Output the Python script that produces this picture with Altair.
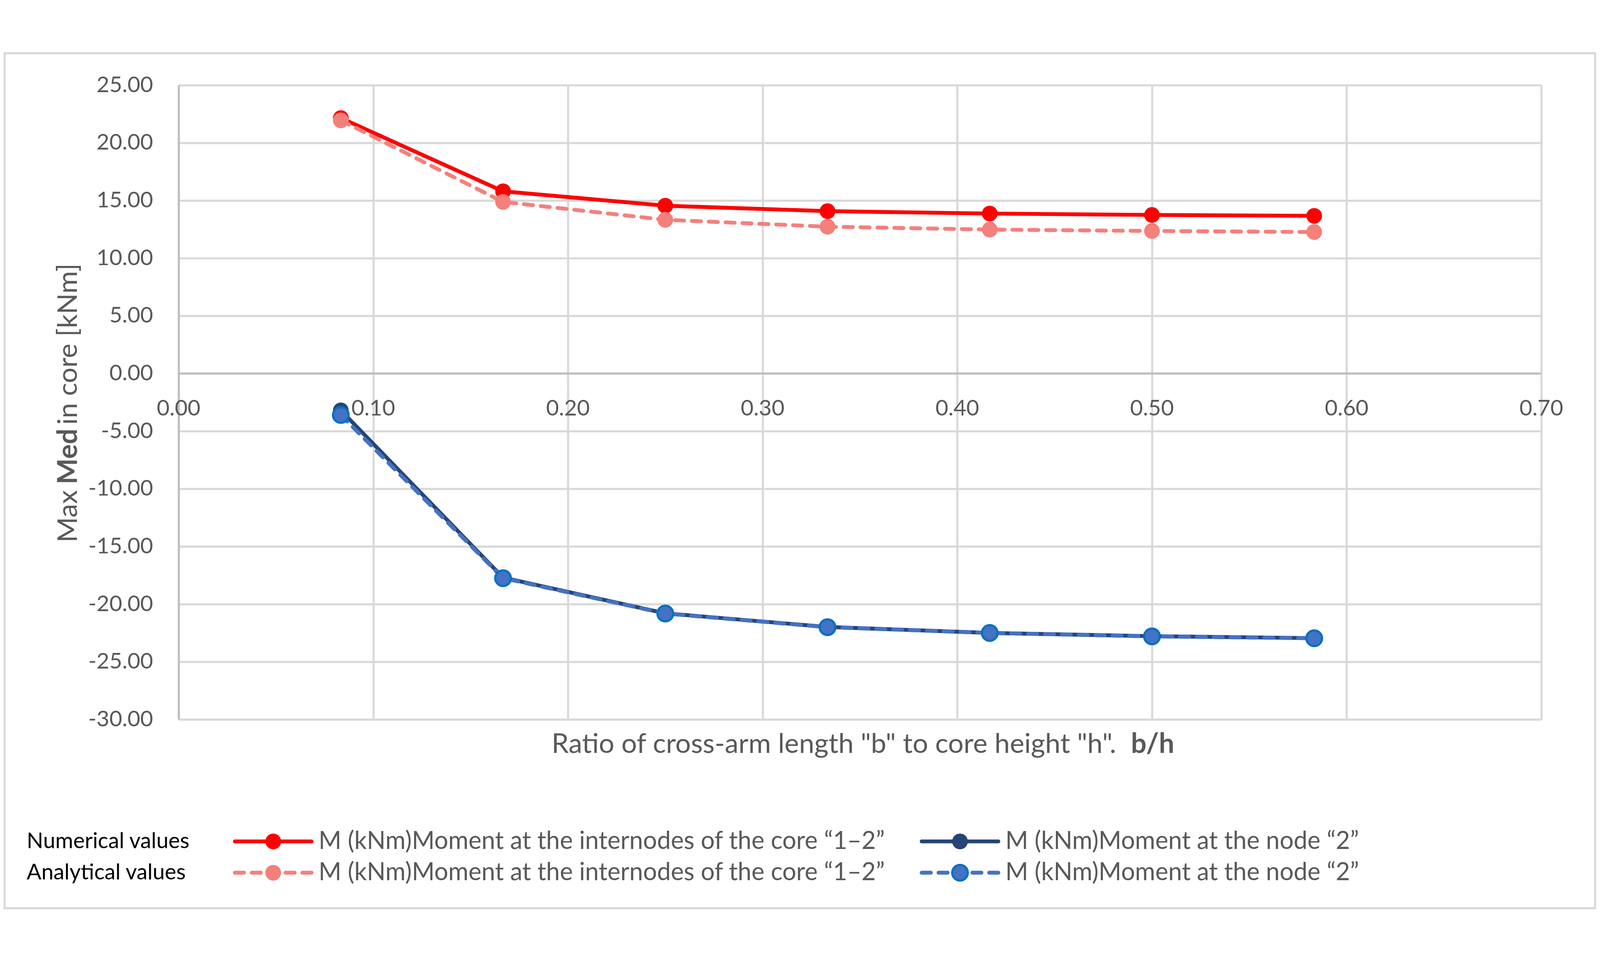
import altair as alt
import pandas as pd


# b/h ratios and the four moment series (kNm)
x_ratio = [1 / 12, 2 / 12, 3 / 12, 4 / 12, 5 / 12, 6 / 12, 7 / 12]
num_internode = [22.15, 15.80, 14.55, 14.08, 13.87, 13.75, 13.67]
ana_internode = [21.95, 14.88, 13.33, 12.73, 12.48, 12.36, 12.27]
num_node = [-3.20, -17.70, -20.80, -21.98, -22.50, -22.78, -22.95]
ana_node = [-3.60, -17.75, -20.82, -22.00, -22.50, -22.80, -22.96]

x_ticks = [0.0, 0.1, 0.2, 0.3, 0.4, 0.5, 0.6, 0.7]
y_ticks = [-30, -25, -20, -15, -10, -5, 0, 5, 10, 15, 20, 25]

series_label_internode = "M (kNm)Moment at the internodes of the core \u201c1\u20132\u201d"
series_label_node = "M (kNm)Moment at the node \u201c2\u201d"

W, H = 3875, 1804
FONT = "Lato"
GRAY = "#595959"
RED, PINK, NAVY, BLUE, BLUE_EDGE = "#FF0000", "#F4807C", "#264478", "#4472C4", "#0070C0"
DASH = [26, 22]
LW = 11
MSIZE = 2000

rows = []
for name, vals in [("num_int", num_internode), ("ana_int", ana_internode),
                   ("num_node", num_node), ("ana_node", ana_node)]:
    for xv, yv in zip(x_ratio, vals):
        rows.append({"series": name, "ratio": xv, "moment": yv})
df = pd.DataFrame(rows)

x_enc = alt.X("ratio:Q", scale=alt.Scale(domain=[0, 0.7], nice=False),
              axis=alt.Axis(values=x_ticks, labels=False, ticks=False, domain=False,
                            grid=True, gridColor="#D9D9D9", gridWidth=6, title=None))
y_enc = alt.Y("moment:Q", scale=alt.Scale(domain=[-30, 25], nice=False),
              axis=alt.Axis(values=y_ticks, ticks=False, tickSize=0,
                            labelExpr="(datum.value < 0 ? '-' : '') + format(abs(datum.value), '.2f')",
                            labelPadding=73, labelFontSize=63, labelFont=FONT, labelLimit=600,
                            labelColor=GRAY, domain=True, domainColor="#BFBFBF",
                            domainWidth=6, grid=True, gridColor="#D9D9D9",
                            gridWidth=6, title=None))

base = alt.Chart(df).encode(x=x_enc, y=y_enc)


def series_layers(name, color, dash=None, fill=None, edge=None):
    line_kw = dict(color=color, strokeWidth=LW, strokeCap="round", strokeJoin="round")
    if dash:
        line_kw["strokeDash"] = dash
    line = base.transform_filter(alt.datum.series == name).mark_line(**line_kw)
    pt_kw = dict(shape="circle", filled=True, size=MSIZE, fill=fill or color, opacity=1)
    if edge:
        pt_kw.update(stroke=edge, strokeWidth=6)
    pts = base.transform_filter(alt.datum.series == name).mark_point(**pt_kw)
    return [line, pts]


one = alt.Data(values=[{}])

# zero line carrying the x labels
zero_line = alt.Chart(one).mark_rule(color="#BFBFBF", strokeWidth=6).encode(
    y=alt.datum(0), x=alt.value(0), x2=alt.value(W))
x_labels = alt.Chart(pd.DataFrame({"t": x_ticks})).mark_text(
    font=FONT, fontSize=63, color=GRAY, baseline="alphabetic", dy=120
).encode(x=alt.X("t:Q", scale=alt.Scale(domain=[0, 0.7], nice=False)),
         y=alt.datum(0), text=alt.Text("t:Q", format=".2f"))


def text_at(x, y, label, **kw):
    style = dict(font=FONT, fontSize=78, color=GRAY)
    style.update(kw)
    return alt.Chart(one).mark_text(**style).encode(
        x=alt.value(x), y=alt.value(y), text=alt.value(label))


# axis titles (part of each in bold)
x_title = [
    text_at(2666, 1876, 'Ratio of cross-arm length "b" to core height "h".', align="right"),
    text_at(2708, 1876, "b/h", align="left", fontWeight="bold"),
]
y_title = [
    text_at(-312, 1152, "Max", align="right", angle=270),
    text_at(-312, 1056, "Med", align="center", angle=270, fontWeight="bold"),
    text_at(-312, 966, "in core [kNm]", align="left", angle=270),
]


def legend_entry(x0, y0, color, label, dash=None, fill=None, edge=None):
    rule_kw = dict(color=color, strokeWidth=LW, strokeCap="round")
    if dash:
        rule_kw["strokeDash"] = dash
    rule = alt.Chart(one).mark_rule(**rule_kw).encode(
        x=alt.value(x0), x2=alt.value(x0 + 218), y=alt.value(y0))
    pt_kw = dict(shape="circle", filled=True, size=MSIZE, fill=fill or color, opacity=1)
    if edge:
        pt_kw.update(stroke=edge, strokeWidth=6)
    pt = alt.Chart(one).mark_point(**pt_kw).encode(x=alt.value(x0 + 109), y=alt.value(y0))
    txt = text_at(x0 + 238, y0, label, fontSize=70, align="left", baseline="middle")
    return [rule, pt, txt]


legend = (
    [text_at(-432, 2151, "Numerical values", fontSize=62, color="black",
             align="left", baseline="middle"),
     text_at(-432, 2240, "Analytical values", fontSize=62, color="black",
             align="left", baseline="middle")]
    + legend_entry(160, 2151, RED, series_label_internode)
    + legend_entry(2113, 2151, NAVY, series_label_node)
    + legend_entry(160, 2240, PINK, series_label_internode, dash=DASH)
    + legend_entry(2113, 2240, BLUE, series_label_node, dash=DASH, edge=BLUE_EDGE)
)

# outer chart frame; with "pad" autosize it also sets the drawing bounds
border = alt.Chart(one).mark_rect(fillOpacity=0, stroke="#D9D9D9", strokeWidth=6).encode(
    x=alt.value(-495), x2=alt.value(W + 153), y=alt.value(-91), y2=alt.value(2341))

layers = (
    [border]
    + series_layers("num_int", RED)
    + series_layers("num_node", NAVY)
    + series_layers("ana_int", PINK, dash=DASH)
    + series_layers("ana_node", BLUE, dash=DASH, edge=BLUE_EDGE)
    + [zero_line, x_labels]
    + x_title + y_title + legend
)

chart = alt.layer(*layers).properties(
    width=W, height=H,
    autosize=alt.AutoSizeParams(type="pad"),
    padding={"left": 1, "top": 4, "right": 2, "bottom": 4},
    background="white",
).configure_view(strokeWidth=0)

chart.save("out.html", embed_options={"renderer": "svg", "actions": False})
